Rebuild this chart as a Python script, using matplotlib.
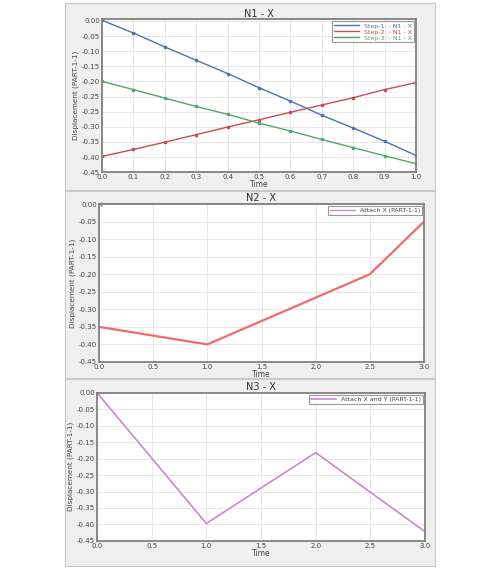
import numpy as np
import matplotlib.pyplot as plt
from matplotlib.patches import Rectangle
from matplotlib.lines import Line2D

# N1 - X (y values in plotted-axis units; the original axis repeats "-0.25")
t1 = [0.0, 0.1, 0.2, 0.3, 0.4, 0.5, 0.6, 0.7, 0.8, 0.9, 1.0]
step1 = [0.002, -0.040, -0.086, -0.130, -0.174, -0.221, -0.265, -0.312, -0.354, -0.398, -0.445]
step2 = [-0.448, -0.425, -0.401, -0.376, -0.351, -0.327, -0.302, -0.278, -0.254, -0.227, -0.204]
step3 = [-0.200, -0.227, -0.255, -0.283, -0.309, -0.338, -0.364, -0.392, -0.419, -0.446, -0.472]
n1_ticks = [0.0, -0.05, -0.10, -0.15, -0.20, -0.25, -0.30, -0.35, -0.40, -0.45, -0.50]
n1_ticklabels = ['0.00', '-0.05', '-0.10', '-0.15', '-0.20', '-0.25', '-0.25',
                 '-0.30', '-0.35', '-0.40', '-0.45']
n1_labels = ['Step-1: - N1 - X', 'Step-2: - N1 - X', 'Step-3: - N1 - X']

# N2 - X
t2 = [0.0, 1.0, 2.5, 3.0]
attach_x = [-0.35, -0.40, -0.20, -0.05]

# N3 - X
t3 = [0.0, 1.0, 2.0, 3.0]
attach_xy = [0.0, -0.397, -0.182, -0.422]

y_ticks = [0.0, -0.05, -0.10, -0.15, -0.20, -0.25, -0.30, -0.35, -0.40, -0.45]
y_ticklabels = ['0.00', '-0.05', '-0.10', '-0.15', '-0.20', '-0.25', '-0.30',
                '-0.35', '-0.40', '-0.45']

blue, red, green = '#4c72b0', '#c44e52', '#55a868'
bright_red = '#f26a6a'
purple = '#c78bc9'
frame_col = '#808080'
text_col = '#444444'

fig = plt.figure(figsize=(5.0, 5.7), dpi=100)
fig.patch.set_facecolor('white')

# gray panel backgrounds
for y0, y1 in [(3, 190), (191, 378), (379, 566)]:
    fig.patches.append(Rectangle((65 / 500, 1 - y1 / 570), 370 / 500, (y1 - y0) / 570,
                                 transform=fig.transFigure, facecolor='#efefef',
                                 edgecolor='#c8c8c8', linewidth=0.8, zorder=-10))


def style_axes(ax, title, xticks):
    ax.set_facecolor('white')
    for s in ax.spines.values():
        s.set_color(frame_col)
        s.set_linewidth(1.3)
    ax.grid(True, color='#e4e4e4', linewidth=0.6)
    ax.set_axisbelow(True)
    ax.tick_params(labelsize=5, colors=text_col, length=0, pad=1.5)
    ax.set_xticks(xticks)
    ax.set_title(title, fontsize=7, color='#333333', pad=2)
    ax.set_xlabel('Time', fontsize=5.5, color=text_col, labelpad=0)
    ax.set_ylabel('Displacement (PART-1-1)', fontsize=5.2, color=text_col, labelpad=2)


def style_legend(leg, colors):
    leg.get_frame().set_edgecolor(frame_col)
    leg.get_frame().set_linewidth(0.8)
    for txt, c in zip(leg.get_texts(), colors):
        txt.set_color(c)


# --- N1 - X
ax1 = fig.add_axes([0.204, 0.698, 0.628, 0.268])
for ys, c in zip([step1, step2, step3], [blue, red, green]):
    ax1.plot(t1, ys, color=c, linewidth=1.0, marker='o', markersize=1.6)
ax1.set_xlim(0, 1.0)
ax1.set_ylim(-0.50, 0.005)
ax1.set_yticks(n1_ticks)
ax1.set_yticklabels(n1_ticklabels)
style_axes(ax1, 'N1 - X', np.round(np.arange(0, 1.01, 0.1), 1))
handles1 = [Line2D([], [], color=c, linewidth=1.0) for c in [blue, red, green]]
leg = ax1.legend(handles1, n1_labels, loc='upper right', fontsize=4.5, fancybox=False,
                 borderpad=0.3, handlelength=4, labelspacing=0.1, borderaxespad=0.3)
style_legend(leg, [blue, red, green])

# --- N2 - X
ax2 = fig.add_axes([0.198, 0.365, 0.650, 0.277])
ax2.plot(t2, attach_x, color=bright_red, linewidth=1.6)
ax2.plot([t2[0]], [0.0], marker=4, color=purple, markersize=2.5, clip_on=False)
ax2.set_xlim(0, 3.0)
ax2.set_ylim(-0.45, 0.0)
ax2.set_yticks(y_ticks)
ax2.set_yticklabels(y_ticklabels)
style_axes(ax2, 'N2 - X', [0.0, 0.5, 1.0, 1.5, 2.0, 2.5, 3.0])
leg2 = ax2.legend([Line2D([], [], color=purple, linewidth=1.0)], ['Attach X (PART-1-1)'],
                  loc='upper right', fontsize=4.5, fancybox=False, borderpad=0.3,
                  handlelength=4, borderaxespad=0.3)
style_legend(leg2, [text_col])

# --- N3 - X
ax3 = fig.add_axes([0.194, 0.051, 0.656, 0.260])
ax3.plot(t3, attach_xy, color=purple, linewidth=1.2, label='Attach X and Y (PART-1-1)')
ax3.set_xlim(0, 3.0)
ax3.set_ylim(-0.45, 0.0)
ax3.set_yticks(y_ticks)
ax3.set_yticklabels(y_ticklabels)
style_axes(ax3, 'N3 - X', [0.0, 0.5, 1.0, 1.5, 2.0, 2.5, 3.0])
leg3 = ax3.legend(loc='upper right', fontsize=4.5, fancybox=False, borderpad=0.3,
                  handlelength=4, borderaxespad=0.3)
style_legend(leg3, [text_col])

fig.savefig('out.png', dpi=100)
